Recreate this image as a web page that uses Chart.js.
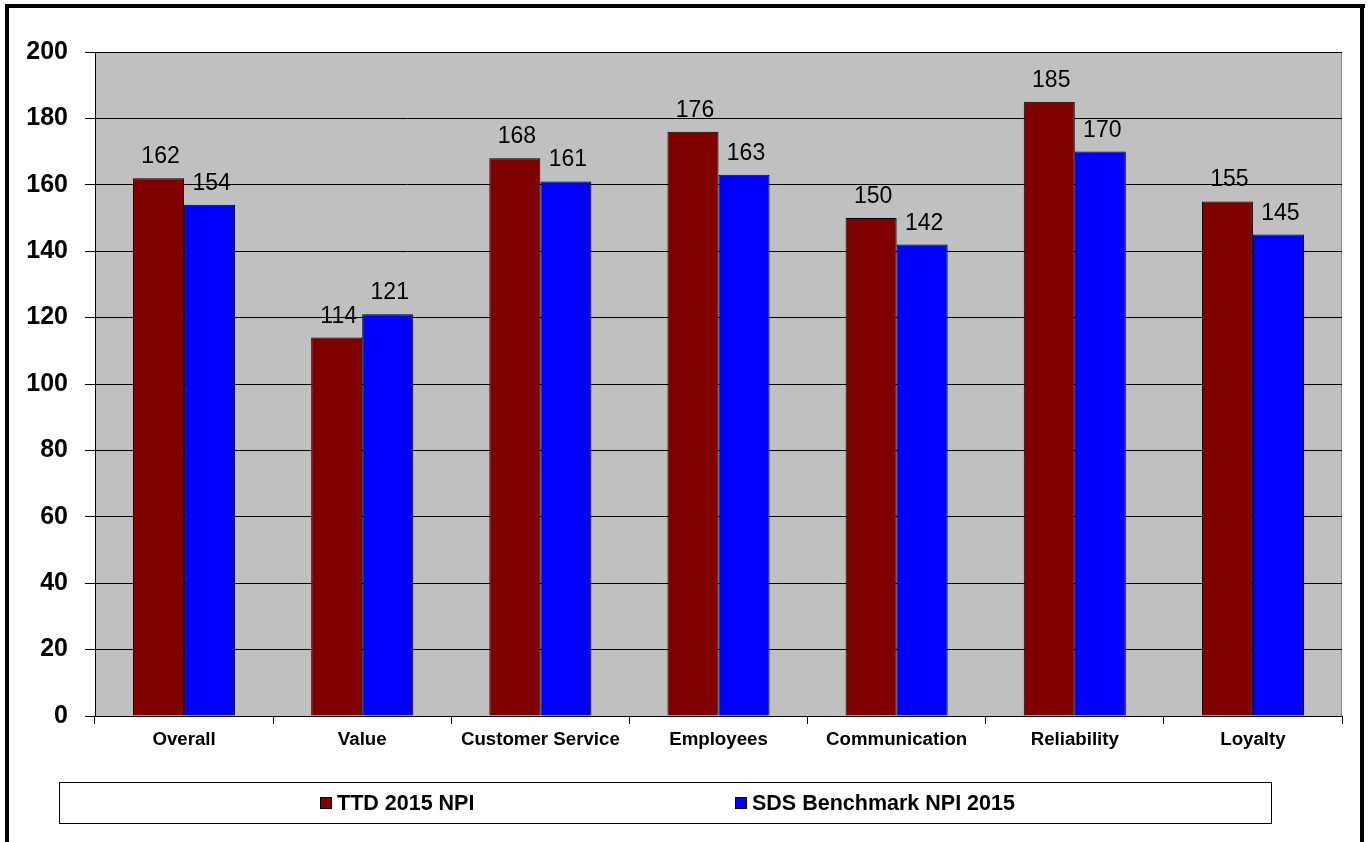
<!DOCTYPE html>
<html>
<head>
<meta charset="utf-8">
<script src="https://cdn.jsdelivr.net/npm/chart.js@4.4.1/dist/chart.umd.min.js"></script>
<style>
  html, body { margin: 0; padding: 0; background: #fff; }
  #wrap { width: 1370px; height: 842px; position: relative; }
</style>
</head>
<body>
<div id="wrap"><canvas id="npi" width="1370" height="842"></canvas></div>
<script>
const categories = ['Overall', 'Value', 'Customer Service', 'Employees', 'Communication', 'Reliability', 'Loyalty'];
const ttd2015 = [162, 114, 168, 176, 150, 185, 155];
const sdsBenchmark = [154, 121, 161, 163, 142, 170, 145];
const yTicks = [0, 20, 40, 60, 80, 100, 120, 140, 160, 180, 200];
const seriesNames = ['TTD 2015 NPI', 'SDS Benchmark NPI 2015'];

const FONT = 'Arial, "Liberation Sans", sans-serif';

// gray plot area + gray top/right edge
const plotBg = {
  id: 'plotBg',
  beforeDraw(chart) {
    const { ctx, chartArea: a } = chart;
    ctx.save();
    ctx.fillStyle = '#c0c0c0';
    ctx.fillRect(a.left, a.top, a.right - a.left, a.bottom - a.top);
    ctx.strokeStyle = '#8c8c8c';
    ctx.lineWidth = 1;
    ctx.beginPath();
    ctx.moveTo(a.left, a.top + 0.5);
    ctx.lineTo(a.right - 0.5, a.top + 0.5);
    ctx.lineTo(a.right - 0.5, a.bottom);
    ctx.stroke();
    ctx.restore();
  }
};

// value labels over bars, frame and legend box
const extras = {
  id: 'extras',
  afterDraw(chart) {
    const { ctx } = chart;
    ctx.save();
    ctx.font = '23px ' + FONT;
    ctx.fillStyle = '#000';
    ctx.textAlign = 'center';
    ctx.textBaseline = 'alphabetic';
    chart.data.datasets.forEach((ds, i) => {
      chart.getDatasetMeta(i).data.forEach((bar, j) => {
        ctx.fillText(String(ds.data[j]), bar.x + 2, bar.y - 15);
      });
    });

    // outer frame (no bottom edge)
    ctx.fillStyle = '#000';
    ctx.fillRect(5, 4, 1360, 4);
    ctx.fillRect(5, 4, 4, 838);
    ctx.fillRect(1360, 4, 4, 838);

    // legend
    ctx.strokeStyle = '#000';
    ctx.lineWidth = 1;
    ctx.strokeRect(59.5, 782.5, 1212, 41);
    const items = [{ x: 320, c: '#800000' }, { x: 735, c: '#0000ff' }];
    ctx.font = 'bold 21.5px ' + FONT;
    ctx.textAlign = 'left';
    ctx.textBaseline = 'middle';
    items.forEach((it, i) => {
      ctx.fillStyle = it.c;
      ctx.fillRect(it.x, 797, 12, 12);
      ctx.strokeRect(it.x + 0.5, 797.5, 11, 11);
      ctx.fillStyle = '#000';
      ctx.fillText(seriesNames[i], it.x + 17, 804);
    });
    ctx.restore();
  }
};

new Chart(document.getElementById('npi'), {
  type: 'bar',
  data: {
    labels: categories,
    datasets: [
      { label: seriesNames[0], data: ttd2015, backgroundColor: '#800000', borderColor: '#000', borderWidth: 1 },
      { label: seriesNames[1], data: sdsBenchmark, backgroundColor: '#0000ff', borderColor: '#000', borderWidth: 1 }
    ]
  },
  options: {
    responsive: false,
    animation: false,
    events: [],
    layout: { padding: { top: 52, right: 28, left: 0, bottom: 0 } },
    datasets: { bar: { categoryPercentage: 0.573, barPercentage: 1 } },
    plugins: { legend: { display: false }, tooltip: { enabled: false } },
    scales: {
      x: {
        afterFit(s) { s.height = 126; },
        grid: { display: true, drawOnChartArea: false, color: '#000', tickLength: 8, offset: true },
        border: { color: '#000', width: 1 },
        ticks: { color: '#000', font: { family: FONT, size: 18.7, weight: 'bold' }, padding: 5, maxRotation: 0 }
      },
      y: {
        min: 0,
        max: 200,
        afterFit(s) { s.width = 95; },
        afterBuildTicks(s) { s.ticks = yTicks.map(v => ({ value: v })); },
        grid: { color: '#000', lineWidth: 1, tickLength: 10 },
        border: { color: '#000', width: 1 },
        ticks: { color: '#000', font: { family: FONT, size: 25, weight: 'bold' }, padding: 17 }
      }
    }
  },
  plugins: [plotBg, extras]
});
</script>
</body>
</html>
